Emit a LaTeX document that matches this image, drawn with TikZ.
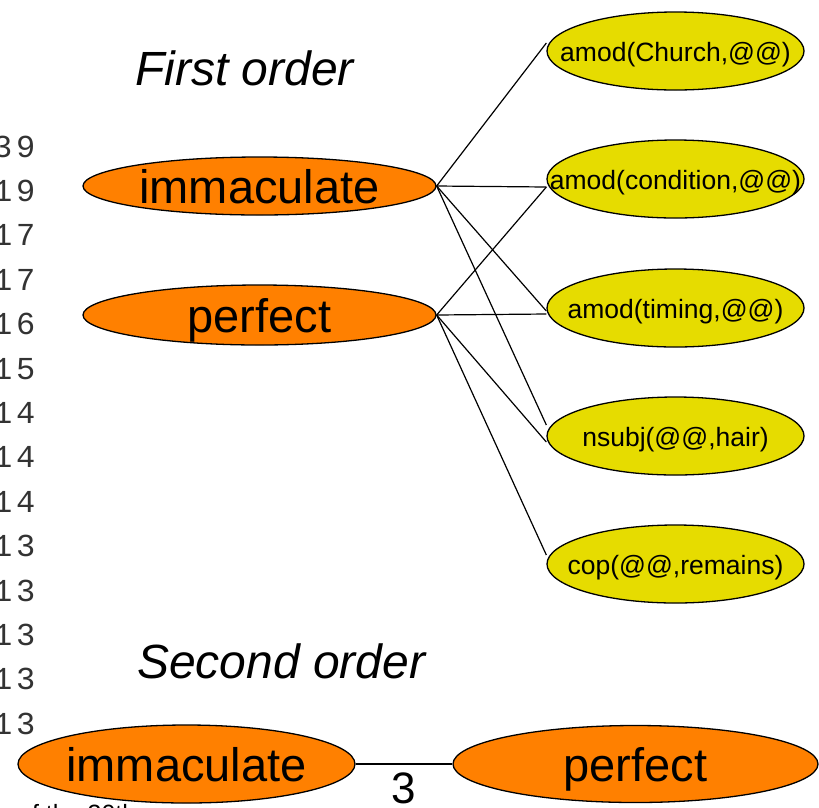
\documentclass[tikz,border=0pt]{standalone}
\usepackage{fontspec}
\setmainfont{Liberation Sans}
\newfontfamily\monofam[LetterSpace=12]{Liberation Mono}
\usetikzlibrary{shapes.geometric}

\definecolor{termorange}{RGB}{255,128,0}
\definecolor{ctxyellow}{RGB}{230,220,0}

% text that does not enlarge the ellipse around it
\newcommand{\flattxt}[1]{\makebox[0pt]{\raisebox{-0.38em}[0pt][0pt]{#1}}}

\tikzset{
  term/.style={ellipse, draw=black, line width=1.3pt, fill=termorange,
    inner sep=0pt, font=\fontsize{47}{50}\selectfont},
  ctx/.style={ellipse, draw=black, line width=1.3pt, fill=ctxyellow,
    inner sep=0pt, minimum width=257pt, minimum height=78pt,
    font=\fontsize{26.5}{28}\selectfont},
  link/.style={draw=black, line width=1.2pt},
  title/.style={anchor=base west, inner sep=0pt,
    font=\fontsize{48}{52}\selectfont\itshape},
  count/.style={anchor=base east, inner sep=0pt, text=black!80,
    font=\fontsize{32}{34}\monofam},
}

\begin{document}
\begin{tikzpicture}[x=1pt, y=-1pt]
\useasboundingbox (0,0) rectangle (819,807);

% frequency column
\foreach \v [count=\i from 0] in {39,19,17,17,16,15,14,14,14,13,13,13,13,13}
  \node[count] (cnt\i) at (35.5, {157 + 44.4*\i}) {\v};

% titles
\node[title] (t1) at (135, 85) {First order};
\node[title] (t2) at (137, 678) {Second order};

% first order terms
\node[term, minimum width=353pt, minimum height=58pt] (imm) at (259.5,186) {\flattxt{immaculate}};
\node[term, minimum width=353pt, minimum height=60pt] (perf) at (259.5,315) {\flattxt{perfect}};

% contexts
\node[ctx] (church) at (675.5,51)  {\flattxt{amod(Church,@@)}};
\node[ctx] (cond)   at (675.5,179) {\flattxt{amod(condition,@@)}};
\node[ctx] (timing) at (675.5,308) {\flattxt{amod(timing,@@)}};
\node[ctx] (nsubj)  at (675.5,436) {\flattxt{nsubj(@@,hair)}};
\node[ctx] (cop)    at (675.5,564) {\flattxt{cop(@@,remains)}};

% links between terms and contexts
\draw[link] (imm.east) -- ([yshift=8pt]church.west);
\draw[link] (imm.east) -- ([yshift=-8pt]cond.west);
\draw[link] (imm.east) -- ([yshift=-3pt]timing.west);
\draw[link] (imm.east) -- ([yshift=11pt]nsubj.west);
\draw[link] (perf.east) -- ([yshift=-8pt]cond.west);
\draw[link] (perf.east) -- ([yshift=-6pt]timing.west);
\draw[link] (perf.east) -- ([yshift=-6pt]nsubj.west);
\draw[link] (perf.east) -- ([yshift=9pt]cop.west);

% second order
\node[term, minimum width=337pt, minimum height=78pt] (imm2) at (186.5,764) {\flattxt{immaculate}};
\node[term, minimum width=365pt, minimum height=77pt] (perf2) at (635.5,764) {\flattxt{perfect}};
\draw[link] (imm2) -- (perf2);

\node[anchor=base, inner sep=0pt, font=\fontsize{44}{46}\selectfont] (num) at (403.5,803) {3};
\node[anchor=base west, inner sep=0pt, font=\fontsize{25}{27}\selectfont] (foot) at (18,822) {of the 30th};
\end{tikzpicture}
\end{document}
